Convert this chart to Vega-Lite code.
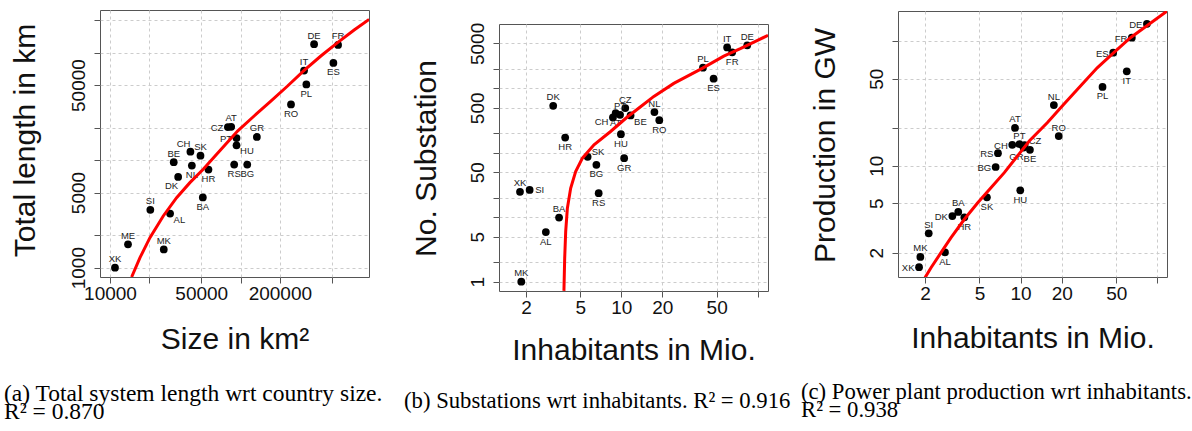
{
"$schema":"https://vega.github.io/schema/vega-lite/v6.json",
"padding":{"left":3,"top":9,"right":5,"bottom":5},
"background":"white",
"datasets":{
"pts":[
{"c":"XK","size":10920,"len":1000,"pop":1.81,"sub":24.8,"gw":1.53},
{"c":"ME","size":13740,"len":1650},
{"c":"MK","size":25820,"len":1480,"pop":1.85,"sub":1.0,"gw":1.85},
{"c":"SI","size":20370,"len":3450,"pop":2.13,"sub":26.6,"gw":2.86},
{"c":"AL","size":28850,"len":3190,"pop":2.8,"sub":5.9,"gw":2.01},
{"c":"BA","size":51400,"len":4500,"pop":3.5,"sub":9.9,"gw":4.25},
{"c":"DK","size":33270,"len":6980,"pop":3.17,"sub":538,"gw":3.94},
{"c":"BE","size":30770,"len":9570,"pop":11.7,"sub":380,"gw":13.4},
{"c":"NL","size":42370,"len":8910,"pop":17.5,"sub":429,"gw":30.7},
{"c":"HR","size":56770,"len":8170,"pop":3.88,"sub":173,"gw":3.85},
{"c":"CH","size":41300,"len":12010,"pop":8.69,"sub":354,"gw":14.7},
{"c":"SK","size":49320,"len":11020,"pop":5.67,"sub":86.7,"gw":5.57},
{"c":"CZ","size":79980,"len":20330,"pop":10.7,"sub":495,"gw":14.66},
{"c":"AT","size":84750,"len":20460,"pop":9.1,"sub":414,"gw":20.1},
{"c":"PT","size":93120,"len":16070,"pop":9.8,"sub":390,"gw":14.9},
{"c":"GR","size":133300,"len":16440,"pop":10.5,"sub":82.6,"gw":14.0},
{"c":"HU","size":93120,"len":13750,"pop":9.94,"sub":195,"gw":6.34},
{"c":"RS","size":89360,"len":9100,"pop":6.83,"sub":23.6,"gw":12.6},
{"c":"BG","size":112500,"len":9100,"pop":6.57,"sub":65.1,"gw":9.76},
{"c":"RO","size":243400,"len":33040,"pop":19.0,"sub":322,"gw":17.3},
{"c":"PL","size":319000,"len":50590,"pop":39.7,"sub":2094,"gw":42.9},
{"c":"IT","size":306400,"len":68230,"pop":59.7,"sub":4336,"gw":57.3},
{"c":"ES","size":514000,"len":80370,"pop":47.5,"sub":1414,"gw":80.9},
{"c":"FR","size":558200,"len":118000,"pop":65.0,"sub":3630,"gw":106.7},
{"c":"DE","size":365700,"len":119900,"pop":83.8,"sub":4660,"gw":138}
],
"ca":[
{"x":14650,"y":819},{"x":16970,"y":1239},{"x":20230,"y":1901},{"x":25590,"y":3027},{"x":32380,"y":4478},{"x":40930,"y":6180},{"x":51760,"y":8222},{"x":65610,"y":11340},{"x":94850,"y":18660},{"x":127000,"y":25760},{"x":170600,"y":35480},{"x":229100,"y":48980},{"x":306900,"y":68550},{"x":412000,"y":93100},{"x":553000,"y":123900},{"x":741000,"y":162500},{"x":964000,"y":204000}
],
"cb":[
{"x":3.80,"y":0.72},{"x":3.848,"y":2.30},{"x":3.914,"y":5.99},{"x":4.027,"y":13.8},{"x":4.256,"y":28.2},{"x":4.63,"y":51.3},{"x":5.19,"y":82.6},{"x":6.31,"y":133},{"x":8.35,"y":214.6},{"x":11.07,"y":360},{"x":13.85,"y":520},{"x":17.33,"y":751},{"x":24.27,"y":1196},{"x":39.5,"y":2069},{"x":56.4,"y":3177},{"x":74.6,"y":4142},{"x":98.9,"y":5520},{"x":119,"y":6668}
],
"cc":[
{"x":2.002,"y":1.26},{"x":2.213,"y":1.515},{"x":2.618,"y":2.0},{"x":3.10,"y":2.64},{"x":3.88,"y":3.71},{"x":4.86,"y":5.04},{"x":6.07,"y":6.66},{"x":7.60,"y":8.79},{"x":11.57,"y":15.8},{"x":15.66,"y":22.1},{"x":20.7,"y":31.1},{"x":27.4,"y":43.6},{"x":36.3,"y":61.2},{"x":48.0,"y":80.9},{"x":63.5,"y":106.7},{"x":117.8,"y":175}
]
},
"hconcat":[
{
"vconcat":[
{
"width":269,"height":267,
"title":{"text":["(a) Total system length wrt country size.","R² = 0.870"],"orient":"bottom","anchor":"start","frame":"group","dx":-96,"offset":27.5,"font":"Liberation Serif","fontSize":23.5,"fontWeight":"normal","color":"#000","lineHeight":18,"align":"left"},
"layer":[
{"data":{"name":"pts"},"mark":{"type":"circle","size":60,"color":"#000","opacity":1},
"encoding":{
"x":{"field":"size","type":"quantitative","scale":{"type":"log","domain":[8385,963000],"nice":false},"axis":{"title":"Size in km²","values":[10000,20000,50000,100000,200000,500000],"format":"d","labelExpr":"indexof([10000,50000,200000],datum.value)>=0?datum.label:''","titleX":134.5,"titleY":71}},
"y":{"field":"len","type":"quantitative","scale":{"type":"log","domain":[819,249500],"nice":false},"axis":{"title":"Total length in km","values":[1000,2000,5000,10000,20000,50000,100000,200000],"format":"d","labelExpr":"indexof([1000,5000,50000],datum.value)>=0?datum.label:''","titleX":-66,"titleY":130}}}},
{"data":{"name":"pts"},"transform":[{"filter":"indexof(['XK','ME','MK','SI','BE','SK','AT','GR','IT','DE','FR'],datum.c)>=0"}],"mark":{"type":"text","font":"Liberation Sans","fontSize":9.5,"color":"#222","align":"center","baseline":"middle","dy":-8.5},"encoding":{"x":{"field":"size","type":"quantitative"},"y":{"field":"len","type":"quantitative"},"text":{"field":"c"}}},
{"data":{"name":"pts"},"transform":[{"filter":"indexof(['BA','NL','HR','RS','BG','RO','PL','ES'],datum.c)>=0"}],"mark":{"type":"text","font":"Liberation Sans","fontSize":9.5,"color":"#222","align":"center","baseline":"middle","dy":9.5},"encoding":{"x":{"field":"size","type":"quantitative"},"y":{"field":"len","type":"quantitative"},"text":{"field":"c"}}},
{"data":{"name":"pts"},"transform":[{"filter":"indexof(['CZ','PT'],datum.c)>=0"}],"mark":{"type":"text","font":"Liberation Sans","fontSize":9.5,"color":"#222","align":"right","baseline":"middle","dx":-4.5,"dy":1},"encoding":{"x":{"field":"size","type":"quantitative"},"y":{"field":"len","type":"quantitative"},"text":{"field":"c"}}},
{"data":{"name":"pts"},"transform":[{"filter":"indexof(['AL','HU'],datum.c)>=0"}],"mark":{"type":"text","font":"Liberation Sans","fontSize":9.5,"color":"#222","align":"left","baseline":"middle","dx":3.5,"dy":6},"encoding":{"x":{"field":"size","type":"quantitative"},"y":{"field":"len","type":"quantitative"},"text":{"field":"c"}}},
{"data":{"name":"pts"},"transform":[{"filter":"datum.c=='DK'"}],"mark":{"type":"text","font":"Liberation Sans","fontSize":9.5,"color":"#222","align":"right","baseline":"middle","dx":0,"dy":9},"encoding":{"x":{"field":"size","type":"quantitative"},"y":{"field":"len","type":"quantitative"},"text":{"field":"c"}}},
{"data":{"name":"pts"},"transform":[{"filter":"datum.c=='CH'"}],"mark":{"type":"text","font":"Liberation Sans","fontSize":9.5,"color":"#222","align":"right","baseline":"middle","dx":0,"dy":-8},"encoding":{"x":{"field":"size","type":"quantitative"},"y":{"field":"len","type":"quantitative"},"text":{"field":"c"}}},
{"data":{"name":"ca"},"mark":{"type":"line","color":"#ff0000","strokeWidth":3,"clip":true},"encoding":{"x":{"field":"x","type":"quantitative"},"y":{"field":"y","type":"quantitative"}}}
]
}
],
"spacing":0,
"bounds":"flush"
},
{
"vconcat":[
{"width":269,"height":14,"data":{"values":[{}]},"mark":{"type":"text","text":"","fontSize":1,"baseline":"top","align":"left"},"encoding":{},"view":{"stroke":null}},
{
"width":269,"height":267,
"title":{"text":"(b) Substations wrt inhabitants. R² = 0.916","orient":"bottom","anchor":"start","frame":"group","dx":-95,"offset":25,"font":"Liberation Serif","fontSize":22.7,"fontWeight":"normal","color":"#000","align":"left"},
"layer":[
{"data":{"name":"pts"},"transform":[{"filter":"isValid(datum.pop)"}],"mark":{"type":"circle","size":60,"color":"#000","opacity":1},
"encoding":{
"x":{"field":"pop","type":"quantitative","scale":{"type":"log","domain":[1.27,119],"nice":false},"axis":{"title":"Inhabitants in Mio.","values":[2,5,10,20,50,100],"format":"d","labelExpr":"datum.value<100?datum.label:''","titleX":134.5,"titleY":68}},
"y":{"field":"sub","type":"quantitative","scale":{"type":"log","domain":[0.717,10000],"nice":false},"axis":{"title":"No. Substation","values":[1,2,5,10,20,50,100,200,500,1000,2000,5000],"format":"d","labelExpr":"indexof([1,5,50,500,5000],datum.value)>=0?datum.label:''","titleX":-64,"titleY":134}}}},
{"data":{"name":"pts"},"transform":[{"filter":"indexof(['MK','XK','BA','DK','PT','CZ','NL','PL','IT','DE'],datum.c)>=0"}],"mark":{"type":"text","font":"Liberation Sans","fontSize":9.5,"color":"#222","align":"center","baseline":"middle","dy":-8.5},"encoding":{"x":{"field":"pop","type":"quantitative"},"y":{"field":"sub","type":"quantitative"},"text":{"field":"c"}}},
{"data":{"name":"pts"},"transform":[{"filter":"indexof(['AL','HR','BG','RS','GR','HU','AT','RO','ES','FR'],datum.c)>=0"}],"mark":{"type":"text","font":"Liberation Sans","fontSize":9.5,"color":"#222","align":"center","baseline":"middle","dy":9.5},"encoding":{"x":{"field":"pop","type":"quantitative"},"y":{"field":"sub","type":"quantitative"},"text":{"field":"c"}}},
{"data":{"name":"pts"},"transform":[{"filter":"datum.c=='SI'"}],"mark":{"type":"text","font":"Liberation Sans","fontSize":9.5,"color":"#222","align":"left","baseline":"middle","dx":5.5,"dy":0},"encoding":{"x":{"field":"pop","type":"quantitative"},"y":{"field":"sub","type":"quantitative"},"text":{"field":"c"}}},
{"data":{"name":"pts"},"transform":[{"filter":"datum.c=='SK'"}],"mark":{"type":"text","font":"Liberation Sans","fontSize":9.5,"color":"#222","align":"left","baseline":"middle","dx":4,"dy":-4.5},"encoding":{"x":{"field":"pop","type":"quantitative"},"y":{"field":"sub","type":"quantitative"},"text":{"field":"c"}}},
{"data":{"name":"pts"},"transform":[{"filter":"datum.c=='CH'"}],"mark":{"type":"text","font":"Liberation Sans","fontSize":9.5,"color":"#222","align":"right","baseline":"middle","dx":-4.5,"dy":4.5},"encoding":{"x":{"field":"pop","type":"quantitative"},"y":{"field":"sub","type":"quantitative"},"text":{"field":"c"}}},
{"data":{"name":"pts"},"transform":[{"filter":"datum.c=='BE'"}],"mark":{"type":"text","font":"Liberation Sans","fontSize":9.5,"color":"#222","align":"left","baseline":"middle","dx":3.5,"dy":6.5},"encoding":{"x":{"field":"pop","type":"quantitative"},"y":{"field":"sub","type":"quantitative"},"text":{"field":"c"}}},
{"data":{"name":"cb"},"mark":{"type":"line","color":"#ff0000","strokeWidth":3,"clip":true},"encoding":{"x":{"field":"x","type":"quantitative"},"y":{"field":"y","type":"quantitative"}}}
]
}
],
"spacing":0,
"bounds":"flush"
},
{
"vconcat":[
{"width":269,"height":1,"data":{"values":[{}]},"mark":{"type":"text","text":"","fontSize":1,"baseline":"top","align":"left"},"encoding":{},"view":{"stroke":null}},
{
"width":269,"height":266,
"title":{"text":["(c) Power plant production wrt inhabitants.","R² = 0.938"],"orient":"bottom","anchor":"start","frame":"group","dx":-97,"offset":27.5,"font":"Liberation Serif","fontSize":22.7,"fontWeight":"normal","color":"#000","lineHeight":18,"align":"left"},
"layer":[
{"data":{"name":"pts"},"transform":[{"filter":"isValid(datum.pop)"}],"mark":{"type":"circle","size":60,"color":"#000","opacity":1},
"encoding":{
"x":{"field":"pop","type":"quantitative","scale":{"type":"log","domain":[1.27,117.5],"nice":false},"axis":{"title":"Inhabitants in Mio.","values":[2,5,10,20,50,100],"format":"d","labelExpr":"datum.value<100?datum.label:''","titleX":134.5,"titleY":70.5}},
"y":{"field":"gw","type":"quantitative","scale":{"type":"log","domain":[1.275,175],"nice":false},"axis":{"title":"Production in GW","values":[2,5,10,20,50,100],"format":"d","labelExpr":"indexof([2,5,10,50],datum.value)>=0?datum.label:''","titleX":-64,"titleY":134}}}},
{"data":{"name":"pts"},"transform":[{"filter":"indexof(['XK','DK','BG','RS','CH','ES','FR','DE'],datum.c)>=0"}],"mark":{"type":"text","font":"Liberation Sans","fontSize":9.5,"color":"#222","align":"right","baseline":"middle","dx":-4.5,"dy":1},"encoding":{"x":{"field":"pop","type":"quantitative"},"y":{"field":"gw","type":"quantitative"},"text":{"field":"c"}}},
{"data":{"name":"pts"},"transform":[{"filter":"indexof(['MK','SI','BA','AT','PT','NL','RO'],datum.c)>=0"}],"mark":{"type":"text","font":"Liberation Sans","fontSize":9.5,"color":"#222","align":"center","baseline":"middle","dy":-8.5},"encoding":{"x":{"field":"pop","type":"quantitative"},"y":{"field":"gw","type":"quantitative"},"text":{"field":"c"}}},
{"data":{"name":"pts"},"transform":[{"filter":"indexof(['AL','HR','SK','HU','BE','PL','IT'],datum.c)>=0"}],"mark":{"type":"text","font":"Liberation Sans","fontSize":9.5,"color":"#222","align":"center","baseline":"middle","dy":9.5},"encoding":{"x":{"field":"pop","type":"quantitative"},"y":{"field":"gw","type":"quantitative"},"text":{"field":"c"}}},
{"data":{"name":"pts"},"transform":[{"filter":"datum.c=='GR'"}],"mark":{"type":"text","font":"Liberation Sans","fontSize":9.5,"color":"#222","align":"right","baseline":"middle","dx":0,"dy":9},"encoding":{"x":{"field":"pop","type":"quantitative"},"y":{"field":"gw","type":"quantitative"},"text":{"field":"c"}}},
{"data":{"name":"pts"},"transform":[{"filter":"datum.c=='CZ'"}],"mark":{"type":"text","font":"Liberation Sans","fontSize":9.5,"color":"#222","align":"left","baseline":"middle","dx":4,"dy":-4.5},"encoding":{"x":{"field":"pop","type":"quantitative"},"y":{"field":"gw","type":"quantitative"},"text":{"field":"c"}}},
{"data":{"name":"cc"},"mark":{"type":"line","color":"#ff0000","strokeWidth":3,"clip":true},"encoding":{"x":{"field":"x","type":"quantitative"},"y":{"field":"y","type":"quantitative"}}}
]
}
],
"spacing":0,
"bounds":"flush"
}
],
"spacing":399,
"bounds":"flush",
"config":{
"view":{"stroke":"#555","strokeWidth":1},
"axis":{"grid":true,"gridColor":"#cccccc","gridDash":[3,3],"gridWidth":1,"domain":false,"ticks":true,"tickColor":"#555","tickSize":6,"labelFont":"Liberation Sans","labelFontSize":19,"labelColor":"#111","labelOverlap":false,"labelFlush":false,"labelBound":false,"titleFont":"Liberation Sans","titleFontSize":30,"titleFontWeight":"normal","titleColor":"#111"},
"axisX":{"labelPadding":16.5,"labelBaseline":"alphabetic","labelAngle":0,"labelAlign":"center","titleBaseline":"alphabetic","titleAlign":"center","titleAngle":0},
"axisY":{"labelAngle":270,"labelAlign":"center","labelBaseline":"alphabetic","labelPadding":10,"titleAngle":270,"titleAlign":"center","titleBaseline":"alphabetic"}
}
}
